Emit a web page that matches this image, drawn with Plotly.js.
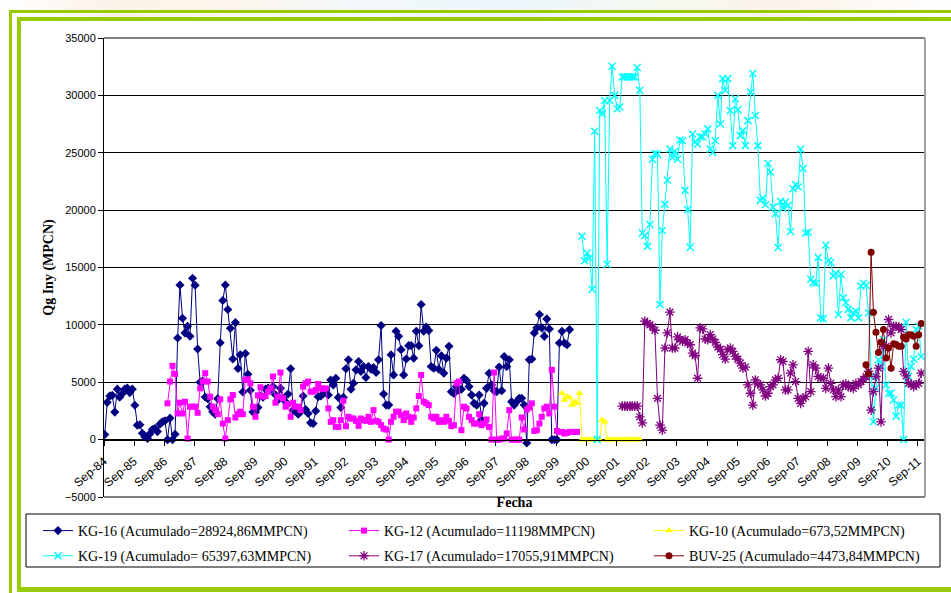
<!DOCTYPE html>
<html>
<head>
<meta charset="utf-8">
<script src="https://cdn.plot.ly/plotly-3.0.1.min.js"></script>
<style>
  html, body { margin:0; padding:0; background:#ffffff; }
  #wrap { position:relative; width:951px; height:593px; overflow:hidden; background:#ffffff; }
  .g { position:absolute; background:#99CC00; }
  #bgtop { position:absolute; left:0; top:0; width:951px; height:28px;
    background: linear-gradient(90deg, #fff 0%, #fbeee2 12%, #fdf3e6 22%, #eef6fb 40%, #e9f3fa 55%, #f3f8ec 70%, #fbefe4 82%, #fff 100%); opacity:0.8; }
  #chart { position:absolute; left:0; top:0; width:951px; height:593px; }
</style>
</head>
<body>
<div id="wrap">
  <div id="bgtop"></div>
  <div style="position:absolute;left:20px;top:20px;width:931px;height:566px;background:#fff;"></div>
  <div class="g" style="left:9px;top:10px;width:942px;height:3px;"></div>
  <div class="g" style="left:9px;top:10px;width:3px;height:583px;"></div>
  <div class="g" style="left:17px;top:17px;width:934px;height:4px;"></div>
  <div class="g" style="left:17px;top:17px;width:4px;height:575px;"></div>
  <div class="g" style="left:17px;top:587px;width:934px;height:5px;"></div>
  <div id="chart"></div>
</div>
<script>
// ---- Data (monthly values, MPCN) ----
const kg16Start = [1984, 9];
const kg16 = [440,3250,3800,3860,2400,4400,3700,4000,4400,4500,4100,4400,3000,
  1260,1300,560,230,100,500,880,970,700,1350,1550,1640,0,1870,0,470,
  8860,13480,10580,9300,9880,9010,14060,13450,
  7900,5000,5100,3720,3570,2870,2430,2220,3570,8440,12130,13480,11340,9700,7020,10200,6200,7400,4150,7500,5700,4300,2400,2400,2800,3800,3700,4400,4500,
  4300,4620,3900,3450,4470,3600,3300,3980,6170,2570,2430,2220,2430,
  3800,2630,2280,1460,1400,2500,3740,3800,4000,4270,3890,5200,4770,5350,3680,2800,3680,6170,6960,4390,4910,6080,6810,5940,6370,5410,6370,6140,6290,5850,6960,9940,3980,3010,3010,7400,5640,9450,9000,7840,5640,7020,8190,8190,7100,9450,8190,11780,9450,9820,9500,6370,6230,7780,6140,7310,5790,7100,8130,4180,4030,4620,4330,4390,5350,5150,4620,3890,3160,3010,3890,1700,3160,4470,5790,4770,4270,4180,6320,4270,7250,6370,6960,3300,3010,3300,3600,3600,3010,
  -290,6960,7020,9300,9740,10900,9740,9000,10520,9650,0,0,0,8420,9440,8420,8270,9590];

const kg12Start = [1986, 10];
const kg12 = [3160,5060,6430,5730,2280,3220,2280,3300,90,2870,2870,2870,2340,4470,5060,5790,5060,3740,2870,2570,2220,3510,1400,90,1700,3510,3890,1930,2220,2430,2220,5200,5260,4910,2870,1990,3860,4560,3740,3800,4180,4470,5500,3220,3740,5850,3600,2870,3100,1990,3220,2870,2870,2570,4620,4910,5060,
  4180,4180,4330,4850,4470,4390,4470,2720,1550,1700,1110,1110,1700,3390,1170,1990,1840,1840,1640,1200,1840,1700,1640,1990,1550,2570,1640,1550,1260,960,880,0,1550,1990,2430,2430,2130,1700,2280,1990,1550,1930,2720,3800,5640,3300,3160,3010,1990,1840,1990,1550,1700,1550,1990,1640,1170,1260,4910,5060,820,2870,2720,1990,1700,1400,1400,2220,1260,1400,1750,1110,0,5850,0,0,90,90,530,2570,0,0,0,0,
  1930,880,2630,2800,3160,760,820,1400,1990,2720,2870,2280,6080,2870,760,670,670,530,590,670,670,670,670];

const kg10Start = [1999, 11];
const kg10 = [4040,3450,3740,3680,3010,3300,3160,4040,0,0,0,0,0,0,0,0,1700,1550,0,0,0,0,0,0,0,0,0,0,0,0,0,0];

const kg19Start = [2000, 7];
const kg19 = [17720,15580,16260,15820,13100,26870,0,28680,28390,29560,15290,29560,32540,30000,28830,28980,31610,31610,31610,31610,31610,31610,32430,30440,
  18010,17800,16840,18740,24440,24940,24880,11780,18220,20500,22600,25320,24590,25120,24440,26110,26050,21720,20060,16760,26640,25910,25760,26400,26400,26640,27080,25320,25030,26050,30000,27510,31460,30440,31460,28680,25620,29710,28740,26490,26930,25620,27800,30290,31900,28240,25620,20850,
  21050,20470,24060,23330,20260,19680,16750,20760,20170,20700,20410,18130,21870,22220,22020,25320,23630,18010,18070,13980,13680,13630,15880,10610,10530,16960,15590,15440,14270,14500,10910,14420,12370,11930,11350,10610,11050,11200,10610,13390,13630,13450,11050,5500,1550,4500,6960,6370,8710,4770,4040,4040,3450,2050,3010,3010,0,10230,5500,6370,7020,9590,9880,7250];

const kg17Start = [2001, 11];
const kg17 = [2920,2920,2920,2920,2920,2920,2920,1990,1460,
  10320,10120,10030,9820,9530,3600,1260,820,
  7980,9300,11110,7980,7980,8950,8710,8570,8710,8420,8270,7540,7310,5350,
  9740,9650,8770,8710,9150,8770,8480,8070,7890,7400,7020,7840,7980,7690,7250,7020,6670,6230,6320,
  4770,4040,3010,5200,4850,4770,4330,3800,4040,4620,4770,5200,5350,6960,6810,4330,4330,5790,6520,5060,
  3600,3160,3600,3740,7690,4180,6520,6230,5500,5350,5350,4470,6230,4910,4330,3740,4330,3740,4770,4850,
  4620,4560,4470,4910,4770,5060,5260,5500,5940,2570,4180,5500,6230,1550,8130,8130,10470,9300,9880,9880,9820,9590,5940,5560,4910,4850,4620,4770,4910,5790];

const buv25Start = [2009, 12];
const buv25 = [6520,5730,16320,11110,9360,7600,8480,9590,7110,7980,6230,8360,8280,8130,8130,8950,8770,9150,9150,9010,8130,9150,10120];

const names = [
  'KG-16 (Acumulado=28924,86MMPCN)',
  'KG-12 (Acumulado=11198MMPCN)',
  'KG-10 (Acumulado=673,52MMPCN)',
  'KG-19 (Acumulado= 65397,63MMPCN)',
  'KG-17 (Acumulado=17055,91MMPCN)',
  'BUV-25 (Acumulado=4473,84MMPCN)'
];

// monthly date labels for a series starting at [year, month]
function months(start, n) {
  const out = [];
  for (let i = 0; i < n; i++) {
    const t = start[0] * 12 + (start[1] - 1) + i;
    const y = Math.floor(t / 12), m = t % 12 + 1;
    out.push(y + '-' + String(m).padStart(2, '0') + '-10');
  }
  return out;
}

function tr(name, start, vals, color, marker, leg) {
  return {
    type: 'scatter', mode: 'lines+markers', name: name,
    x: months(start, vals.length), y: vals,
    line: { color: color, width: 1 },
    marker: Object.assign({ color: color }, marker),
    legend: leg, legendgroup: name
  };
}

const data = [
  tr(names[0], kg16Start, kg16, '#000080', { symbol: 'diamond', size: 7 }, 'legend'),
  tr(names[1], kg12Start, kg12, '#FF00FF', { symbol: 'square', size: 6 }, 'legend2'),
  tr(names[2], kg10Start, kg10, '#FFFF00', { symbol: 'triangle-up', size: 7 }, 'legend3'),
  tr(names[3], kg19Start, kg19, '#00FFFF', { symbol: 'x-thin-open', size: 7, line: { color: '#00FFFF', width: 1.5 } }, 'legend'),
  tr(names[4], kg17Start, kg17, '#800080', { symbol: 'asterisk-open', size: 8, line: { color: '#800080', width: 1.3 } }, 'legend2'),
  tr(names[5], buv25Start, buv25, '#800000', { symbol: 'circle', size: 7 }, 'legend3')
];

const L = 104, R = 925, T = 38, B = 497;
const W = R - L, H = B - T;
const px = v => (v - L) / W;
const py = v => (B - v) / H;

const legFont = { family: 'Liberation Serif, Times New Roman, serif', size: 14, color: '#000' };
function leg(xText) {
  return {
    orientation: 'v', x: px(xText - 44), xanchor: 'left', y: py(515), yanchor: 'top',
    bgcolor: 'rgba(0,0,0,0)', borderwidth: 0, font: legFont,
    traceorder: 'grouped', tracegroupgap: 4
  };
}

const layout = {
  width: 951, height: 593,
  margin: { l: L, r: 951 - R, t: T, b: 593 - B, pad: 0 },
  paper_bgcolor: 'rgba(0,0,0,0)',
  plot_bgcolor: '#ffffff',
  showlegend: true,
  font: { family: 'Liberation Sans, Arial, sans-serif', color: '#000' },
  xaxis: {
    type: 'date',
    range: ['1984-09-01', '2011-11-25'],
    tick0: '1984-09-01', dtick: 'M12', tickformat: '%b-%y',
    tickangle: -40,
    ticks: 'outside', ticklen: 5, tickcolor: '#000',
    ticklabelstandoff: 4,
    showgrid: false, zeroline: false,
    showline: true, linecolor: '#000', linewidth: 1,
    anchor: 'free', position: 0.125,
    automargin: false,
    tickfont: { size: 12, family: 'Liberation Sans, Arial, sans-serif', color: '#000' },
    title: { text: 'Fecha', standoff: 8, font: { family: 'Liberation Serif, Times New Roman, serif', size: 14, weight: 'bold', color: '#000' } }
  },
  yaxis: {
    range: [-5000, 35000], tick0: 0, dtick: 5000, tickformat: 'd',
    ticks: 'outside', ticklen: 5, tickcolor: '#000',
    showgrid: true, gridcolor: '#000000', gridwidth: 1,
    zeroline: true, zerolinecolor: '#000', zerolinewidth: 1,
    showline: true, linecolor: '#000', linewidth: 1,
    automargin: false,
    tickfont: { size: 11, family: 'Liberation Sans, Arial, sans-serif', color: '#000' },
    title: { text: 'Qg Iny (MPCN)', standoff: 7, font: { family: 'Liberation Serif, Times New Roman, serif', size: 14, weight: 'bold', color: '#000' } }
  },
  legend: leg(82),
  legend2: leg(388),
  legend3: leg(693),
  shapes: [
    { type: 'line', xref: 'paper', yref: 'paper', x0: 0, x1: 1, y0: 1, y1: 1, line: { color: '#808080', width: 2 } },
    { type: 'line', xref: 'paper', yref: 'paper', x0: 1, x1: 1, y0: 0, y1: 1, line: { color: '#a0a0a0', width: 2 } },
    { type: 'line', xref: 'paper', yref: 'paper', x0: 0, x1: 1, y0: 0, y1: 0, line: { color: '#808080', width: 2 } },
    { type: 'rect', xref: 'paper', yref: 'paper', x0: px(26), x1: px(940), y0: py(514), y1: py(567), line: { color: '#000', width: 1 }, fillcolor: 'rgba(0,0,0,0)' }
  ]
};

Plotly.newPlot('chart', data, layout, { displayModeBar: false, staticPlot: true });
</script>
</body>
</html>
